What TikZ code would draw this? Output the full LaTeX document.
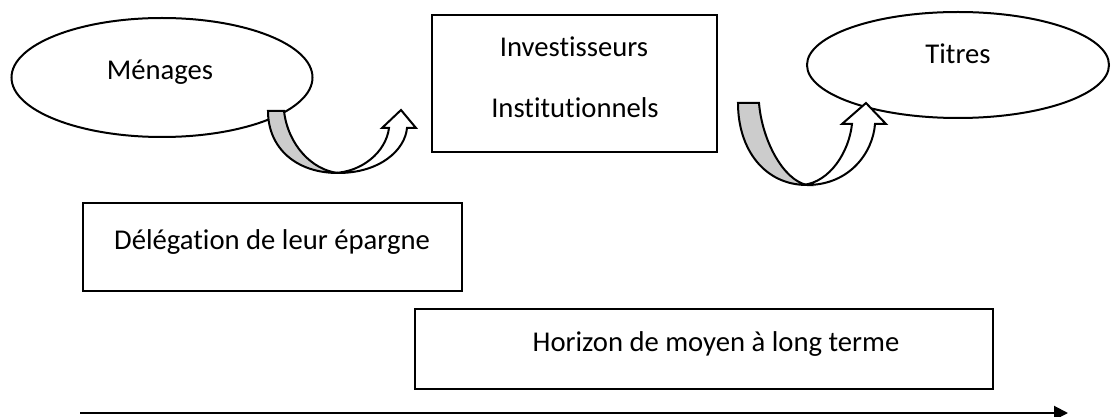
\documentclass[tikz,border=0pt]{standalone}
\usepackage{fontspec}
\setmainfont{Carlito}[Ligatures=NoCommon]
\usetikzlibrary{shapes.geometric,arrows.meta}
\begin{document}
\begin{tikzpicture}[x=0.75pt,y=-0.75pt,line width=1.5pt,
  txt/.style={font=\fontsize{21.5pt}{25pt}\selectfont,inner sep=0pt},
  oval/.style={draw,ellipse,inner sep=0pt},
  boxx/.style={draw,rectangle,inner sep=0pt},
  bandgray/.style={draw,fill=black!20,line join=miter},
  bandwhite/.style={draw,fill=white,line join=miter}]
\useasboundingbox (0,0) rectangle (1111,417);
% shapes
\node[oval,minimum width=225.75pt,minimum height=89.25pt] (men) at (162,77.5) {};
\node[boxx,minimum width=213.75pt,minimum height=102.75pt] (inv) at (574.5,83.5) {};
\node[oval,minimum width=226.5pt,minimum height=79.5pt] (tit) at (958,65) {};
\node[boxx,minimum width=284.25pt,minimum height=66pt] (del) at (272.5,247) {};
\node[boxx,minimum width=433.5pt,minimum height=60pt] (hor) at (704,349) {};
% texts
\node[txt] (tmen) at (160,72) {Ménages};
\node[txt] (tinv1) at (574,47) {Investisseurs};
\node[txt] (tinv2) at (575,108) {Institutionnels};
\node[txt] (ttit) at (958,54) {Titres};
\node[txt] (tdel) at (272,242) {Délégation de leur épargne};
\node[txt] (thor) at (716,344) {Horizon de moyen à long terme};
% curved arrow 1
\draw[bandwhite] (338,173) .. controls (380,173) and (405,150) .. (407,128)
  -- (416,128) -- (401,110) -- (382,128) -- (389,128)
  .. controls (386,152) and (362,172) .. (334,173) -- cycle;
\draw[bandgray] (268,111) -- (284,111) .. controls (288,145) and (312,170) .. (338,173)
  .. controls (296,173) and (268,148) .. (268,111) -- cycle;
% curved arrow 2
\draw[bandwhite] (807,185) .. controls (850,185) and (873,152) .. (875,124)
  -- (886,124) -- (866,103) -- (842,124) -- (852,124)
  .. controls (849,152) and (830,182) .. (803,185) -- cycle;
\draw[bandgray] (738,103) -- (759,103) .. controls (762,140) and (783,180) .. (807,185)
  .. controls (765,185) and (738,150) .. (738,103) -- cycle;
% axis
\coordinate (a0) at (80,413);
\coordinate (a1) at (1068,413);
\draw[-{Triangle[length=10.5pt,width=10.5pt]}] (a0) -- (a1);
\end{tikzpicture}
\end{document}
